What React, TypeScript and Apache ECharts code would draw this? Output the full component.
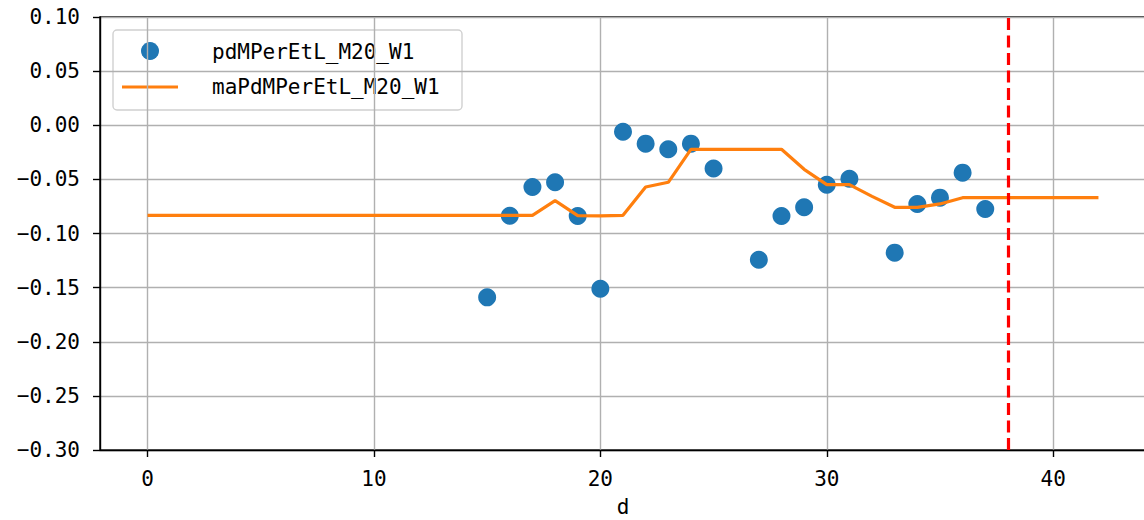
import React, { useEffect, useRef } from "react";
import * as echarts from "echarts";

const scatterX = [15, 16, 17, 18, 19, 20, 21, 22, 23, 24, 25, 27, 28, 29, 30, 31, 33, 34, 35, 36, 37];
const scatterY = [
  -0.159, -0.0836, -0.057, -0.0527, -0.0838, -0.151, -0.006, -0.017, -0.0222, -0.017, -0.04,
  -0.1242, -0.0838, -0.0758, -0.0549, -0.0494, -0.1177, -0.0727, -0.0669, -0.0438, -0.0774,
];
const lineX = [
  0, 1, 2, 3, 4, 5, 6, 7, 8, 9, 10, 11, 12, 13, 14, 15, 16, 17, 18, 19, 20, 21,
  22, 23, 24, 25, 26, 27, 28, 29, 30, 31, 32, 33, 34, 35, 36, 37, 38, 39, 40, 41, 42,
];
const lineY = [
  -0.0832, -0.0832, -0.0832, -0.0832, -0.0832, -0.0832, -0.0832, -0.0832, -0.0832, -0.0832,
  -0.0832, -0.0832, -0.0832, -0.0832, -0.0832, -0.0832, -0.0832, -0.0832, -0.0697, -0.0835,
  -0.0838, -0.0832, -0.057, -0.0527, -0.0222, -0.0222, -0.0222, -0.0222, -0.0222, -0.0407,
  -0.0549, -0.0549, -0.0657, -0.0758, -0.0758, -0.0727, -0.0669, -0.0669, -0.0669, -0.0669,
  -0.0669, -0.0669, -0.0669,
];
const xTicks = [0, 10, 20, 30, 40];
const vLineX = 38;
const scatterName = "pdMPerEtL_M20_W1";
const lineName = "maPdMPerEtL_M20_W1";
const xName = "d";

const FONT = "DejaVu Sans Mono";

export default function App() {
  const ref = useRef<HTMLDivElement>(null);
  useEffect(() => {
    if (!ref.current) return;
    const chart = echarts.init(ref.current, undefined, { renderer: "svg" });
    chart.setOption({
      animation: false,
      backgroundColor: "#ffffff",
      grid: {
        left: 100,
        top: 17,
        right: -2,
        bottom: 70,
        containLabel: false,
        outerBoundsMode: "none",
        show: true,
        borderColor: "#000",
        borderWidth: 1.4,
        backgroundColor: "transparent",
      },
      xAxis: {
        type: "value",
        min: -2.1,
        max: 44.1,
        splitNumber: 5,
        name: xName,
        nameLocation: "middle",
        nameGap: 46,
        nameTextStyle: { fontFamily: FONT, fontSize: 21, color: "#000" },
        axisLine: { show: true, onZero: false, lineStyle: { color: "#000", width: 1.4 } },
        axisTick: { show: true, length: 7, customValues: xTicks, lineStyle: { color: "#000", width: 1.4 } },
        axisLabel: {
          customValues: xTicks,
          fontFamily: FONT,
          fontSize: 21,
          color: "#000",
          margin: 18,
          formatter: (v: number) => String(Math.round(v)),
        },
        splitLine: { show: true, lineStyle: { color: "#b0b0b0", width: 1.4 } },
      },
      yAxis: {
        type: "value",
        min: -0.3,
        max: 0.1,
        interval: 0.05,
        axisLine: { show: true, onZero: false, lineStyle: { color: "#000", width: 1.4 } },
        axisTick: { show: true, length: 7, lineStyle: { color: "#000", width: 1.4 } },
        axisLabel: {
          fontFamily: FONT,
          fontSize: 21,
          color: "#000",
          margin: 20,
          formatter: (v: number) => v.toFixed(2).replace("-", "\u2212"),
        },
        splitLine: { show: true, lineStyle: { color: "#b0b0b0", width: 1.4 } },
      },
      series: [
        {
          name: scatterName,
          type: "scatter",
          data: scatterX.map((x, i) => [x, scatterY[i]]),
          symbol: "circle",
          symbolSize: 18,
          itemStyle: { color: "#1f77b4", opacity: 1 },
          z: 2,
        },
        {
          name: lineName,
          type: "line",
          data: lineX.map((x, i) => [x, lineY[i]]),
          showSymbol: false,
          symbol: "none",
          lineStyle: { color: "#ff7f0e", width: 3.2 },
          z: 3,
          markLine: {
            silent: true,
            symbol: "none",
            label: { show: false },
            lineStyle: { color: "#ff0000", width: 3.2, type: [12, 5.5], opacity: 1 },
            data: [{ xAxis: vLineX }],
            z: 4,
          },
        },
      ],
      graphic: [
        {
          type: "group",
          z: 100,
          children: [
            {
              type: "rect",
              shape: { x: 113, y: 30, width: 349, height: 80, r: 4 },
              style: { fill: "rgba(255,255,255,0.8)", stroke: "#d0d0d0", lineWidth: 1.4 },
            },
            {
              type: "circle",
              shape: { cx: 150, cy: 51, r: 9 },
              style: { fill: "#1f77b4" },
            },
            {
              type: "line",
              shape: { x1: 122, y1: 87, x2: 178, y2: 87 },
              style: { stroke: "#ff7f0e", lineWidth: 3.2 },
            },
            {
              type: "text",
              x: 212,
              y: 52,
              style: { text: scatterName, fontFamily: FONT, fontSize: 21, fill: "#000", verticalAlign: "middle" },
            },
            {
              type: "text",
              x: 212,
              y: 87,
              style: { text: lineName, fontFamily: FONT, fontSize: 21, fill: "#000", verticalAlign: "middle" },
            },
          ],
        },
      ],
    });
    return () => chart.dispose();
  }, []);
  return <div ref={ref} style={{ position: "absolute", left: 0, top: 0, width: 1144, height: 520 }} />;
}
